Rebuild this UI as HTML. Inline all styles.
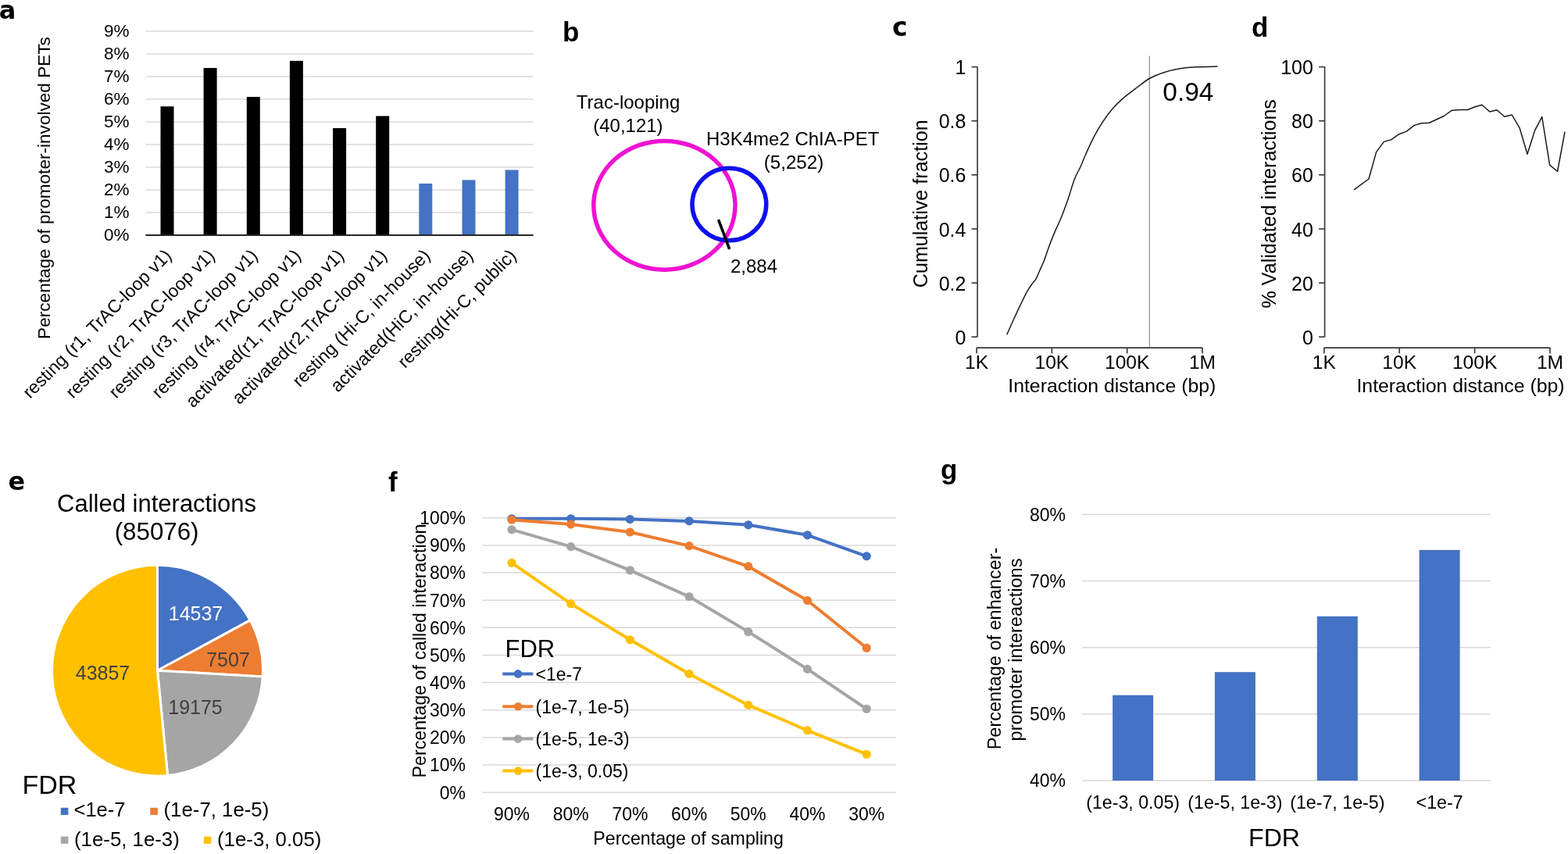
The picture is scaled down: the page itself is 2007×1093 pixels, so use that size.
<!DOCTYPE html>
<html><head><meta charset="utf-8"><title>Figure</title>
<style>html,body{margin:0;padding:0;background:#fff;}svg{display:block;}</style></head>
<body><svg width="2007" height="1093" viewBox="0 0 2007 1093" font-family="Liberation Sans, Arial, sans-serif">
<rect width="2007" height="1093" fill="#fff"/>
<line x1="186.4" y1="272.1" x2="682.7" y2="272.1" stroke="#D9D9D9" stroke-width="1.5"/>
<line x1="186.4" y1="243.1" x2="682.7" y2="243.1" stroke="#D9D9D9" stroke-width="1.5"/>
<line x1="186.4" y1="214.1" x2="682.7" y2="214.1" stroke="#D9D9D9" stroke-width="1.5"/>
<line x1="186.4" y1="185.1" x2="682.7" y2="185.1" stroke="#D9D9D9" stroke-width="1.5"/>
<line x1="186.4" y1="156.1" x2="682.7" y2="156.1" stroke="#D9D9D9" stroke-width="1.5"/>
<line x1="186.4" y1="127.1" x2="682.7" y2="127.1" stroke="#D9D9D9" stroke-width="1.5"/>
<line x1="186.4" y1="98.1" x2="682.7" y2="98.1" stroke="#D9D9D9" stroke-width="1.5"/>
<line x1="186.4" y1="69.1" x2="682.7" y2="69.1" stroke="#D9D9D9" stroke-width="1.5"/>
<line x1="186.4" y1="40.1" x2="682.7" y2="40.1" stroke="#D9D9D9" stroke-width="1.5"/>
<rect x="205.5" y="136.2" width="17" height="164.9" fill="#000"/>
<rect x="260.6" y="87" width="17" height="214.1" fill="#000"/>
<rect x="315.8" y="124" width="17" height="177.1" fill="#000"/>
<rect x="370.9" y="77.9" width="17" height="223.2" fill="#000"/>
<rect x="426.1" y="164" width="17" height="137.1" fill="#000"/>
<rect x="481.2" y="148.5" width="17" height="152.6" fill="#000"/>
<rect x="536.3" y="234.9" width="17" height="66.2" fill="#4472C4"/>
<rect x="591.5" y="230.4" width="17" height="70.7" fill="#4472C4"/>
<rect x="646.6" y="217.5" width="17" height="83.6" fill="#4472C4"/>
<line x1="186.4" y1="301.1" x2="682.7" y2="301.1" stroke="#262626" stroke-width="2"/>
<text x="165.5" y="308.1" font-size="22.5" text-anchor="end" fill="#000" >0%</text>
<text x="165.5" y="279.1" font-size="22.5" text-anchor="end" fill="#000" >1%</text>
<text x="165.5" y="250.1" font-size="22.5" text-anchor="end" fill="#000" >2%</text>
<text x="165.5" y="221.1" font-size="22.5" text-anchor="end" fill="#000" >3%</text>
<text x="165.5" y="192.1" font-size="22.5" text-anchor="end" fill="#000" >4%</text>
<text x="165.5" y="163.1" font-size="22.5" text-anchor="end" fill="#000" >5%</text>
<text x="165.5" y="134.1" font-size="22.5" text-anchor="end" fill="#000" >6%</text>
<text x="165.5" y="105.1" font-size="22.5" text-anchor="end" fill="#000" >7%</text>
<text x="165.5" y="76.1" font-size="22.5" text-anchor="end" fill="#000" >8%</text>
<text x="165.5" y="47.1" font-size="22.5" text-anchor="end" fill="#000" >9%</text>
<text transform="translate(63.8,240.5) rotate(-90)" font-size="22.6" text-anchor="middle">Percentage of promoter-involved PETs</text>
<text transform="translate(221.0,328.5) rotate(-45)" font-size="23" text-anchor="end">resting (r1, TrAC-loop v1)</text>
<text transform="translate(276.1,328.5) rotate(-45)" font-size="23" text-anchor="end">resting (r2, TrAC-loop v1)</text>
<text transform="translate(331.3,328.5) rotate(-45)" font-size="23" text-anchor="end">resting (r3, TrAC-loop v1)</text>
<text transform="translate(386.4,328.5) rotate(-45)" font-size="23" text-anchor="end">resting (r4, TrAC-loop v1)</text>
<text transform="translate(441.6,328.5) rotate(-45)" font-size="23" text-anchor="end">activated(r1, TrAC-loop v1)</text>
<text transform="translate(496.7,328.5) rotate(-45)" font-size="23" text-anchor="end">activated(r2,TrAC-loop v1)</text>
<text transform="translate(551.8,328.5) rotate(-45)" font-size="23" text-anchor="end">resting (Hi-C, in-house)</text>
<text transform="translate(607.0,328.5) rotate(-45)" font-size="23" text-anchor="end">activated(HiC, in-house)</text>
<text transform="translate(662.1,328.5) rotate(-45)" font-size="23" text-anchor="end">resting(Hi-C, public)</text>
<text x="-1.3" y="23.6" font-size="32" font-weight="bold" font-family="DejaVu Sans, Verdana, sans-serif">a</text>
<text x="720" y="52.5" font-size="35" font-weight="bold" >b</text>
<ellipse cx="850.4" cy="262.8" rx="90.6" ry="82.4" fill="none" stroke="#EE12D2" stroke-width="5.5"/>
<ellipse cx="933.4" cy="261.5" rx="47.4" ry="46.3" fill="none" stroke="#1010EE" stroke-width="5.5"/>
<line x1="919.6" y1="281.2" x2="933.7" y2="318.9" stroke="#000" stroke-width="3.6"/>
<text x="737.8" y="138.7" font-size="24" text-anchor="start" fill="#000" >Trac-looping</text>
<text x="759.2" y="168.9" font-size="24" text-anchor="start" fill="#000" >(40,121)</text>
<text x="904.0" y="185.5" font-size="24" text-anchor="start" fill="#000" >H3K4me2 ChIA-PET</text>
<text x="977.7" y="216.2" font-size="24.2" text-anchor="start" fill="#000" >(5,252)</text>
<text x="935.0" y="348.5" font-size="24" text-anchor="start" fill="#000" >2,884</text>
<text x="1142" y="45.5" font-size="33" font-weight="bold" font-family="DejaVu Sans, Verdana, sans-serif">c</text>
<line x1="1251.1" y1="85.6" x2="1251.1" y2="431.2" stroke="#333" stroke-width="1.6"/>
<line x1="1243.6" y1="431.2" x2="1251.1" y2="431.2" stroke="#333" stroke-width="1.6"/>
<text x="1236.4" y="440.8" font-size="25" text-anchor="end" fill="#000" >0</text>
<line x1="1243.6" y1="362.1" x2="1251.1" y2="362.1" stroke="#333" stroke-width="1.6"/>
<text x="1236.4" y="371.7" font-size="25" text-anchor="end" fill="#000" >0.2</text>
<line x1="1243.6" y1="293.0" x2="1251.1" y2="293.0" stroke="#333" stroke-width="1.6"/>
<text x="1236.4" y="302.6" font-size="25" text-anchor="end" fill="#000" >0.4</text>
<line x1="1243.6" y1="223.8" x2="1251.1" y2="223.8" stroke="#333" stroke-width="1.6"/>
<text x="1236.4" y="233.4" font-size="25" text-anchor="end" fill="#000" >0.6</text>
<line x1="1243.6" y1="154.7" x2="1251.1" y2="154.7" stroke="#333" stroke-width="1.6"/>
<text x="1236.4" y="164.3" font-size="25" text-anchor="end" fill="#000" >0.8</text>
<line x1="1243.6" y1="85.6" x2="1251.1" y2="85.6" stroke="#333" stroke-width="1.6"/>
<text x="1236.4" y="95.2" font-size="25" text-anchor="end" fill="#000" >1</text>
<line x1="1250.1" y1="445.1" x2="1539.0" y2="445.1" stroke="#333" stroke-width="1.6"/>
<line x1="1250.1" y1="445.1" x2="1250.1" y2="452.3" stroke="#333" stroke-width="1.6"/>
<text x="1250.1" y="471.8" font-size="24.6" text-anchor="middle" fill="#000" >1K</text>
<line x1="1346.4" y1="445.1" x2="1346.4" y2="452.3" stroke="#333" stroke-width="1.6"/>
<text x="1346.4" y="471.8" font-size="24.6" text-anchor="middle" fill="#000" >10K</text>
<line x1="1442.7" y1="445.1" x2="1442.7" y2="452.3" stroke="#333" stroke-width="1.6"/>
<text x="1442.7" y="471.8" font-size="24.6" text-anchor="middle" fill="#000" >100K</text>
<line x1="1539.0" y1="445.1" x2="1539.0" y2="452.3" stroke="#333" stroke-width="1.6"/>
<text x="1539.0" y="471.8" font-size="24.6" text-anchor="middle" fill="#000" >1M</text>
<text x="1556.3" y="501.9" font-size="24.8" text-anchor="end" fill="#000" >Interaction distance (bp)</text>
<text transform="translate(1187.2,260.8) rotate(-90)" font-size="25.1" text-anchor="middle">Cumulative fraction</text>
<line x1="1471.3" y1="71.6" x2="1471.3" y2="444.5" stroke="#999" stroke-width="1.3"/>
<path fill="none" stroke="#1a1a1a" stroke-width="1.5" d="M1288.80,428.20 C1290.27,424.92 1294.68,414.90 1297.60,408.50 C1300.52,402.10 1303.38,395.83 1306.30,389.80 C1309.22,383.77 1312.53,376.87 1315.10,372.30 C1317.67,367.73 1319.87,364.97 1321.70,362.40 C1323.53,359.83 1324.63,359.47 1326.10,356.90 C1327.57,354.33 1328.67,351.20 1330.50,347.00 C1332.33,342.80 1334.92,337.37 1337.10,331.70 C1339.28,326.03 1341.42,318.85 1343.60,313.00 C1345.78,307.15 1347.63,302.63 1350.20,296.60 C1352.77,290.57 1356.07,284.12 1359.00,276.80 C1361.93,269.48 1365.60,259.10 1367.80,252.70 C1370.00,246.30 1370.73,242.80 1372.20,238.40 C1373.67,234.00 1374.78,230.50 1376.60,226.30 C1378.42,222.10 1380.93,217.97 1383.10,213.20 C1385.27,208.43 1386.68,204.18 1389.60,197.70 C1392.52,191.22 1396.93,181.28 1400.60,174.30 C1404.27,167.32 1407.72,161.63 1411.60,155.80 C1415.48,149.97 1419.55,144.33 1423.90,139.30 C1428.25,134.27 1432.88,129.83 1437.70,125.60 C1442.52,121.37 1447.20,118.08 1452.80,113.90 C1458.40,109.72 1465.13,104.03 1471.30,100.50 C1477.47,96.97 1483.28,94.82 1489.80,92.70 C1496.32,90.58 1503.53,88.95 1510.40,87.80 C1517.27,86.65 1522.98,86.25 1531.00,85.80 C1539.02,85.35 1553.92,85.22 1558.50,85.10"/>
<text x="1488.3" y="129.4" font-size="33.5" text-anchor="start" fill="#000" >0.94</text>
<text x="1602" y="46.5" font-size="35" font-weight="bold" >d</text>
<line x1="1695.6" y1="85.6" x2="1695.6" y2="431.2" stroke="#333" stroke-width="1.6"/>
<line x1="1688.1" y1="431.2" x2="1695.6" y2="431.2" stroke="#333" stroke-width="1.6"/>
<text x="1680.9" y="440.8" font-size="25" text-anchor="end" fill="#000" >0</text>
<line x1="1688.1" y1="362.1" x2="1695.6" y2="362.1" stroke="#333" stroke-width="1.6"/>
<text x="1680.9" y="371.7" font-size="25" text-anchor="end" fill="#000" >20</text>
<line x1="1688.1" y1="293.0" x2="1695.6" y2="293.0" stroke="#333" stroke-width="1.6"/>
<text x="1680.9" y="302.6" font-size="25" text-anchor="end" fill="#000" >40</text>
<line x1="1688.1" y1="223.8" x2="1695.6" y2="223.8" stroke="#333" stroke-width="1.6"/>
<text x="1680.9" y="233.4" font-size="25" text-anchor="end" fill="#000" >60</text>
<line x1="1688.1" y1="154.7" x2="1695.6" y2="154.7" stroke="#333" stroke-width="1.6"/>
<text x="1680.9" y="164.3" font-size="25" text-anchor="end" fill="#000" >80</text>
<line x1="1688.1" y1="85.6" x2="1695.6" y2="85.6" stroke="#333" stroke-width="1.6"/>
<text x="1680.9" y="95.2" font-size="25" text-anchor="end" fill="#000" >100</text>
<line x1="1694.8" y1="445.1" x2="1984.0" y2="445.1" stroke="#333" stroke-width="1.6"/>
<line x1="1694.8" y1="445.1" x2="1694.8" y2="452.3" stroke="#333" stroke-width="1.6"/>
<text x="1694.8" y="471.8" font-size="24.6" text-anchor="middle" fill="#000" >1K</text>
<line x1="1791.2" y1="445.1" x2="1791.2" y2="452.3" stroke="#333" stroke-width="1.6"/>
<text x="1791.2" y="471.8" font-size="24.6" text-anchor="middle" fill="#000" >10K</text>
<line x1="1887.6" y1="445.1" x2="1887.6" y2="452.3" stroke="#333" stroke-width="1.6"/>
<text x="1887.6" y="471.8" font-size="24.6" text-anchor="middle" fill="#000" >100K</text>
<line x1="1984.0" y1="445.1" x2="1984.0" y2="452.3" stroke="#333" stroke-width="1.6"/>
<text x="1984.0" y="471.8" font-size="24.6" text-anchor="middle" fill="#000" >1M</text>
<text x="2002.5" y="501.9" font-size="24.8" text-anchor="end" fill="#000" >Interaction distance (bp)</text>
<text transform="translate(1633.2,260.8) rotate(-90)" font-size="25.1" text-anchor="middle">% Validated interactions</text>
<polyline fill="none" stroke="#1a1a1a" stroke-width="1.5" stroke-linejoin="round" points="1733,242.9 1752,229 1761.6,194.6 1771.4,181.4 1780.6,178.9 1789.7,172.3 1800.7,167.9 1809.8,160.6 1819,157.7 1829.2,157.3 1838,153.3 1848.2,148.5 1858.5,141.2 1868.4,140.5 1878.6,140.5 1887.8,136.8 1896.9,134.2 1906.8,143 1915.9,140.8 1925.8,149.2 1935.3,147 1945.2,164.2 1955,197.2 1964.6,166.8 1973.7,149.6 1983.6,211.1 1993.5,219.5 2003,168.6"/>
<text x="10.5" y="626.8" font-size="32" font-weight="bold" font-family="DejaVu Sans, Verdana, sans-serif">e</text>
<text x="200.6" y="655.0" font-size="31" text-anchor="middle" fill="#000" >Called interactions</text>
<text x="200.6" y="691.2" font-size="31.3" text-anchor="middle" fill="#000" >(85076)</text>
<path d="M201.5,858.2 L201.50,723.20 A135,135 0 0 1 320.16,793.81 Z" fill="#4472C4" stroke="#fff" stroke-width="3" stroke-linejoin="round"/>
<path d="M201.5,858.2 L320.16,793.81 A135,135 0 0 1 336.28,865.92 Z" fill="#ED7D31" stroke="#fff" stroke-width="3" stroke-linejoin="round"/>
<path d="M201.5,858.2 L336.28,865.92 A135,135 0 0 1 214.63,992.56 Z" fill="#A5A5A5" stroke="#fff" stroke-width="3" stroke-linejoin="round"/>
<path d="M201.5,858.2 L214.63,992.56 A135,135 0 1 1 201.50,723.20 Z" fill="#FFC000" stroke="#fff" stroke-width="3" stroke-linejoin="round"/>
<text x="250.5" y="794.2" font-size="25" text-anchor="middle" fill="#fff" >14537</text>
<text x="292.0" y="852.5" font-size="25" text-anchor="middle" fill="#404040" >7507</text>
<text x="131.5" y="870.1" font-size="25" text-anchor="middle" fill="#404040" >43857</text>
<text x="250.0" y="914.0" font-size="25" text-anchor="middle" fill="#404040" >19175</text>
<text x="28.5" y="1015.8" font-size="34" text-anchor="start" fill="#000" >FDR</text>
<rect x="77.8" y="1033.8" width="9.6" height="9.2" fill="#4472C4"/>
<text x="94.5" y="1044.9" font-size="25.5" text-anchor="start" fill="#000" >&lt;1e-7</text>
<rect x="192.3" y="1033.8" width="9.6" height="9.2" fill="#ED7D31"/>
<text x="209.5" y="1044.9" font-size="25.8" text-anchor="start" fill="#000" >(1e-7, 1e-5)</text>
<rect x="77.8" y="1070.6" width="9.6" height="9.2" fill="#A5A5A5"/>
<text x="95.0" y="1082.7" font-size="25.8" text-anchor="start" fill="#000" >(1e-5, 1e-3)</text>
<rect x="260.8" y="1070.6" width="9.6" height="9.2" fill="#FFC000"/>
<text x="278.0" y="1082.7" font-size="25.8" text-anchor="start" fill="#000" >(1e-3, 0.05)</text>
<text x="497" y="629" font-size="35" font-weight="bold" >f</text>
<line x1="617.1" y1="1014.2" x2="1147.1" y2="1014.2" stroke="#D9D9D9" stroke-width="1.5"/>
<text x="596.0" y="1022.5" font-size="23" text-anchor="end" fill="#000" >0%</text>
<line x1="617.1" y1="979.1" x2="1147.1" y2="979.1" stroke="#D9D9D9" stroke-width="1.5"/>
<text x="596.0" y="987.4" font-size="23" text-anchor="end" fill="#000" >10%</text>
<line x1="617.1" y1="943.9" x2="1147.1" y2="943.9" stroke="#D9D9D9" stroke-width="1.5"/>
<text x="596.0" y="952.2" font-size="23" text-anchor="end" fill="#000" >20%</text>
<line x1="617.1" y1="908.8" x2="1147.1" y2="908.8" stroke="#D9D9D9" stroke-width="1.5"/>
<text x="596.0" y="917.0" font-size="23" text-anchor="end" fill="#000" >30%</text>
<line x1="617.1" y1="873.6" x2="1147.1" y2="873.6" stroke="#D9D9D9" stroke-width="1.5"/>
<text x="596.0" y="881.9" font-size="23" text-anchor="end" fill="#000" >40%</text>
<line x1="617.1" y1="838.5" x2="1147.1" y2="838.5" stroke="#D9D9D9" stroke-width="1.5"/>
<text x="596.0" y="846.8" font-size="23" text-anchor="end" fill="#000" >50%</text>
<line x1="617.1" y1="803.3" x2="1147.1" y2="803.3" stroke="#D9D9D9" stroke-width="1.5"/>
<text x="596.0" y="811.6" font-size="23" text-anchor="end" fill="#000" >60%</text>
<line x1="617.1" y1="768.2" x2="1147.1" y2="768.2" stroke="#D9D9D9" stroke-width="1.5"/>
<text x="596.0" y="776.5" font-size="23" text-anchor="end" fill="#000" >70%</text>
<line x1="617.1" y1="733.0" x2="1147.1" y2="733.0" stroke="#D9D9D9" stroke-width="1.5"/>
<text x="596.0" y="741.3" font-size="23" text-anchor="end" fill="#000" >80%</text>
<line x1="617.1" y1="697.9" x2="1147.1" y2="697.9" stroke="#D9D9D9" stroke-width="1.5"/>
<text x="596.0" y="706.1" font-size="23" text-anchor="end" fill="#000" >90%</text>
<line x1="617.1" y1="662.7" x2="1147.1" y2="662.7" stroke="#D9D9D9" stroke-width="1.5"/>
<text x="596.0" y="671.0" font-size="23" text-anchor="end" fill="#000" >100%</text>
<text x="655.0" y="1049.5" font-size="23" text-anchor="middle" fill="#000" >90%</text>
<text x="730.7" y="1049.5" font-size="23" text-anchor="middle" fill="#000" >80%</text>
<text x="806.4" y="1049.5" font-size="23" text-anchor="middle" fill="#000" >70%</text>
<text x="882.1" y="1049.5" font-size="23" text-anchor="middle" fill="#000" >60%</text>
<text x="957.8" y="1049.5" font-size="23" text-anchor="middle" fill="#000" >50%</text>
<text x="1033.5" y="1049.5" font-size="23" text-anchor="middle" fill="#000" >40%</text>
<text x="1109.2" y="1049.5" font-size="23" text-anchor="middle" fill="#000" >30%</text>
<text x="881.1" y="1081.0" font-size="23.2" text-anchor="middle" fill="#000" >Percentage of sampling</text>
<text transform="translate(544.5,833) rotate(-90)" font-size="23.2" text-anchor="middle">Percentage of called interaction</text>
<polyline fill="none" stroke="#4472C4" stroke-width="4" stroke-linejoin="round" stroke-linecap="round" points="655.0,663.8 730.7,663.8 806.4,664.5 882.1,666.9 957.8,671.8 1033.5,684.8 1109.2,711.9"/>
<circle cx="655.0" cy="663.8" r="5.6" fill="#4472C4"/>
<circle cx="730.7" cy="663.8" r="5.6" fill="#4472C4"/>
<circle cx="806.4" cy="664.5" r="5.6" fill="#4472C4"/>
<circle cx="882.1" cy="666.9" r="5.6" fill="#4472C4"/>
<circle cx="957.8" cy="671.8" r="5.6" fill="#4472C4"/>
<circle cx="1033.5" cy="684.8" r="5.6" fill="#4472C4"/>
<circle cx="1109.2" cy="711.9" r="5.6" fill="#4472C4"/>
<polyline fill="none" stroke="#ED7D31" stroke-width="4" stroke-linejoin="round" stroke-linecap="round" points="655.0,665.2 730.7,671.1 806.4,681.0 882.1,698.6 957.8,724.9 1033.5,768.5 1109.2,829.3"/>
<circle cx="655.0" cy="665.2" r="5.6" fill="#ED7D31"/>
<circle cx="730.7" cy="671.1" r="5.6" fill="#ED7D31"/>
<circle cx="806.4" cy="681.0" r="5.6" fill="#ED7D31"/>
<circle cx="882.1" cy="698.6" r="5.6" fill="#ED7D31"/>
<circle cx="957.8" cy="724.9" r="5.6" fill="#ED7D31"/>
<circle cx="1033.5" cy="768.5" r="5.6" fill="#ED7D31"/>
<circle cx="1109.2" cy="829.3" r="5.6" fill="#ED7D31"/>
<polyline fill="none" stroke="#A5A5A5" stroke-width="4" stroke-linejoin="round" stroke-linecap="round" points="655.0,677.8 730.7,699.6 806.4,729.8 882.1,763.6 957.8,808.6 1033.5,856.4 1109.2,907.3"/>
<circle cx="655.0" cy="677.8" r="5.6" fill="#A5A5A5"/>
<circle cx="730.7" cy="699.6" r="5.6" fill="#A5A5A5"/>
<circle cx="806.4" cy="729.8" r="5.6" fill="#A5A5A5"/>
<circle cx="882.1" cy="763.6" r="5.6" fill="#A5A5A5"/>
<circle cx="957.8" cy="808.6" r="5.6" fill="#A5A5A5"/>
<circle cx="1033.5" cy="856.4" r="5.6" fill="#A5A5A5"/>
<circle cx="1109.2" cy="907.3" r="5.6" fill="#A5A5A5"/>
<polyline fill="none" stroke="#FFC000" stroke-width="4" stroke-linejoin="round" stroke-linecap="round" points="655.0,720.3 730.7,772.7 806.4,818.8 882.1,862.4 957.8,902.4 1033.5,934.8 1109.2,965.3"/>
<circle cx="655.0" cy="720.3" r="5.6" fill="#FFC000"/>
<circle cx="730.7" cy="772.7" r="5.6" fill="#FFC000"/>
<circle cx="806.4" cy="818.8" r="5.6" fill="#FFC000"/>
<circle cx="882.1" cy="862.4" r="5.6" fill="#FFC000"/>
<circle cx="957.8" cy="902.4" r="5.6" fill="#FFC000"/>
<circle cx="1033.5" cy="934.8" r="5.6" fill="#FFC000"/>
<circle cx="1109.2" cy="965.3" r="5.6" fill="#FFC000"/>
<text x="646.5" y="841.0" font-size="31" text-anchor="start" fill="#000" >FDR</text>
<line x1="643.3" y1="862.4" x2="682.4" y2="862.4" stroke="#4472C4" stroke-width="4"/>
<circle cx="663.1" cy="862.4" r="5.3" fill="#4472C4"/>
<text x="685.5" y="870.7" font-size="23" text-anchor="start" fill="#000" >&lt;1e-7</text>
<line x1="643.3" y1="904.2" x2="682.4" y2="904.2" stroke="#ED7D31" stroke-width="4"/>
<circle cx="663.1" cy="904.2" r="5.3" fill="#ED7D31"/>
<text x="685.5" y="912.5" font-size="23" text-anchor="start" fill="#000" >(1e-7, 1e-5)</text>
<line x1="643.3" y1="945.6" x2="682.4" y2="945.6" stroke="#A5A5A5" stroke-width="4"/>
<circle cx="663.1" cy="945.6" r="5.3" fill="#A5A5A5"/>
<text x="685.5" y="953.9" font-size="23" text-anchor="start" fill="#000" >(1e-5, 1e-3)</text>
<line x1="643.3" y1="986.6" x2="682.4" y2="986.6" stroke="#FFC000" stroke-width="4"/>
<circle cx="663.1" cy="986.6" r="5.3" fill="#FFC000"/>
<text x="685.5" y="994.9" font-size="23" text-anchor="start" fill="#000" >(1e-3, 0.05)</text>
<text x="1204" y="613" font-size="35" font-weight="bold" >g</text>
<line x1="1384.7" y1="999.0" x2="1908" y2="999.0" stroke="#D9D9D9" stroke-width="1.5"/>
<text x="1364.0" y="1007.3" font-size="23" text-anchor="end" fill="#000" >40%</text>
<line x1="1384.7" y1="913.9" x2="1908" y2="913.9" stroke="#D9D9D9" stroke-width="1.5"/>
<text x="1364.0" y="922.1" font-size="23" text-anchor="end" fill="#000" >50%</text>
<line x1="1384.7" y1="828.7" x2="1908" y2="828.7" stroke="#D9D9D9" stroke-width="1.5"/>
<text x="1364.0" y="837.0" font-size="23" text-anchor="end" fill="#000" >60%</text>
<line x1="1384.7" y1="743.5" x2="1908" y2="743.5" stroke="#D9D9D9" stroke-width="1.5"/>
<text x="1364.0" y="751.8" font-size="23" text-anchor="end" fill="#000" >70%</text>
<line x1="1384.7" y1="658.4" x2="1908" y2="658.4" stroke="#D9D9D9" stroke-width="1.5"/>
<text x="1364.0" y="666.7" font-size="23" text-anchor="end" fill="#000" >80%</text>
<rect x="1424.1" y="889.7" width="52" height="109.3" fill="#4472C4"/>
<text x="1450.1" y="1034.5" font-size="23.2" text-anchor="middle" fill="#000" >(1e-3, 0.05)</text>
<rect x="1554.9" y="860.2" width="52" height="138.8" fill="#4472C4"/>
<text x="1580.9" y="1034.5" font-size="23.2" text-anchor="middle" fill="#000" >(1e-5, 1e-3)</text>
<rect x="1685.8" y="788.8" width="52" height="210.2" fill="#4472C4"/>
<text x="1711.8" y="1034.5" font-size="23.2" text-anchor="middle" fill="#000" >(1e-7, 1e-5)</text>
<rect x="1816.6" y="703.9" width="52" height="295.1" fill="#4472C4"/>
<text x="1842.6" y="1034.5" font-size="23.2" text-anchor="middle" fill="#000" >&lt;1e-7</text>
<text x="1631.0" y="1082.5" font-size="32" text-anchor="middle" fill="#000" >FDR</text>
<text transform="translate(1280.5,830) rotate(-90)" font-size="23.5" text-anchor="middle">Percentage of enhancer-</text>
<text transform="translate(1307.6,831.5) rotate(-90)" font-size="23.5" text-anchor="middle">promoter intereactions</text>
</svg></body></html>
